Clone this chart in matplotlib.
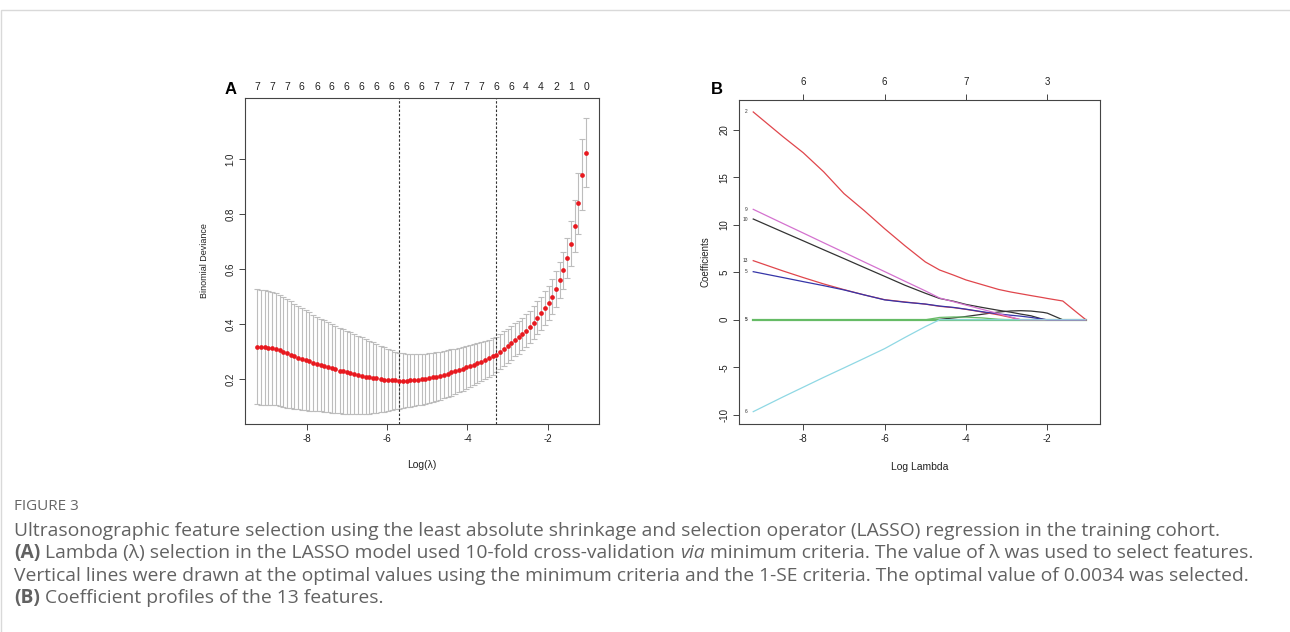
import matplotlib
matplotlib.use("Agg")
import matplotlib.pyplot as plt
from matplotlib.transforms import blended_transform_factory
from matplotlib.patches import Rectangle

# ---- panel A: cross-validated binomial deviance ----
log_lambda = [
    -9.23, -9.14, -9.04, -8.95, -8.86, -8.77, -8.67, -8.58, -8.49, -8.39,
    -8.30, -8.21, -8.12, -8.02, -7.93, -7.84, -7.74, -7.65, -7.56, -7.46,
    -7.37, -7.28, -7.18, -7.09, -7.00, -6.91, -6.81, -6.72, -6.63, -6.53,
    -6.44, -6.35, -6.26, -6.16, -6.07, -5.98, -5.88, -5.79, -5.70, -5.61,
    -5.51, -5.42, -5.33, -5.23, -5.14, -5.05, -4.95, -4.86, -4.77, -4.68,
    -4.58, -4.49, -4.40, -4.30, -4.21, -4.12, -4.03, -3.93, -3.84, -3.75,
    -3.65, -3.56, -3.47, -3.37, -3.28, -3.19, -3.10, -3.00, -2.91, -2.82,
    -2.72, -2.63, -2.54, -2.45, -2.35, -2.26, -2.17, -2.07, -1.98, -1.89,
    -1.79, -1.70, -1.61, -1.52, -1.42, -1.33, -1.24, -1.14, -1.05]

cv_mean = [
    0.318, 0.317, 0.316, 0.315, 0.313, 0.310, 0.305, 0.299, 0.294, 0.289,
    0.284, 0.279, 0.274, 0.269, 0.265, 0.260, 0.256, 0.252, 0.248, 0.244,
    0.240, 0.236, 0.232, 0.229, 0.225, 0.222, 0.219, 0.216, 0.213, 0.210,
    0.207, 0.205, 0.203, 0.201, 0.199, 0.198, 0.197, 0.196, 0.195, 0.195,
    0.195, 0.196, 0.197, 0.198, 0.200, 0.202, 0.204, 0.207, 0.210, 0.213,
    0.217, 0.221, 0.225, 0.229, 0.233, 0.238, 0.243, 0.248, 0.253, 0.258,
    0.264, 0.270, 0.276, 0.283, 0.290, 0.300, 0.311, 0.321, 0.332, 0.343,
    0.353, 0.364, 0.377, 0.390, 0.406, 0.424, 0.441, 0.459, 0.479, 0.500,
    0.528, 0.561, 0.597, 0.642, 0.693, 0.757, 0.840, 0.944, 1.024]

cv_se = [
    0.209, 0.209, 0.208, 0.207, 0.206, 0.204, 0.202, 0.200, 0.197, 0.194,
    0.191, 0.188, 0.185, 0.182, 0.179, 0.175, 0.172, 0.169, 0.166, 0.163,
    0.161, 0.158, 0.156, 0.154, 0.152, 0.149, 0.146, 0.143, 0.140, 0.137,
    0.133, 0.129, 0.125, 0.121, 0.117, 0.113, 0.109, 0.105, 0.102, 0.099,
    0.097, 0.095, 0.094, 0.093, 0.092, 0.091, 0.090, 0.089, 0.088, 0.087,
    0.086, 0.085, 0.084, 0.082, 0.080, 0.079, 0.078, 0.076, 0.075, 0.073,
    0.071, 0.070, 0.068, 0.067, 0.065, 0.064, 0.063, 0.062, 0.061, 0.060,
    0.060, 0.059, 0.059, 0.059, 0.059, 0.060, 0.060, 0.061, 0.062, 0.063,
    0.065, 0.065, 0.067, 0.073, 0.081, 0.095, 0.110, 0.130, 0.125]

# number of non-zero coefficients shown on top (every 4th lambda)
nonzero_top = [7, 7, 7, 6, 6, 6, 6, 6, 6, 6, 6, 6, 7, 7, 7, 7, 6, 6, 4, 4, 2, 1, 0]

log_lambda_min = -5.70
log_lambda_1se = -3.28

# ---- panel B: coefficient profiles ----
path_x = [-9.23, -8.5, -8.0, -7.5, -7.0, -6.5, -6.0, -5.5, -5.0, -4.65, -4.3,
          -4.0, -3.6, -3.2, -2.9, -2.65, -2.4, -2.1, -2.0, -1.62, -1.3, -1.05]

coef_2 = [21.9, 19.3, 17.6, 15.6, 13.3, 11.5, 9.6, 7.8, 6.1, 5.25, 4.7,
          4.2, 3.7, 3.2, 2.93, 2.74, 2.55, 2.33, 2.25, 1.98, 0.86, 0.0]
coef_9 = [11.64, 10.15, 9.14, 8.12, 7.11, 6.09, 5.08, 4.06, 3.05, 2.30, 1.90,
          1.55, 1.10, 0.65, 0.30, 0.0, 0.0, 0.0, 0.0, 0.0, 0.0, 0.0]
coef_10 = [10.62, 9.25, 8.32, 7.38, 6.45, 5.51, 4.58, 3.64, 2.80, 2.25, 1.95,
           1.62, 1.30, 1.00, 0.80, 0.60, 0.42, 0.05, 0.0, 0.0, 0.0, 0.0]
coef_13 = [6.23, 5.15, 4.45, 3.78, 3.18, 2.62, 2.12, 1.88, 1.65, 1.42, 1.28,
           1.10, 0.82, 0.52, 0.25, 0.0, 0.0, 0.0, 0.0, 0.0, 0.0, 0.0]
coef_5 = [5.07, 4.45, 4.02, 3.60, 3.15, 2.62, 2.10, 1.85, 1.66, 1.45, 1.30,
          1.12, 0.85, 0.62, 0.48, 0.38, 0.25, 0.06, 0.0, 0.0, 0.0, 0.0]
coef_6 = [-9.68, -8.13, -7.10, -6.07, -5.07, -4.06, -3.04, -1.86, -0.72, 0.0, 0.0,
          0.0, 0.0, 0.0, 0.0, 0.0, 0.0, 0.0, 0.0, 0.0, 0.0, 0.0]
coef_3 = [0.0, 0.0, 0.0, 0.0, 0.0, 0.0, 0.0, 0.0, 0.0, 0.25, 0.30,
          0.28, 0.20, 0.05, 0.0, 0.0, 0.0, 0.0, 0.0, 0.0, 0.0, 0.0]
coef_1 = [0.0, 0.0, 0.0, 0.0, 0.0, 0.0, 0.0, 0.0, 0.0, 0.05, 0.20,
          0.35, 0.58, 0.82, 0.93, 0.96, 0.92, 0.78, 0.70, 0.0, 0.0, 0.0]
coef_zero = [0.0] * 22

# top axis of panel B
df_ticks = [-8, -6, -4, -2]
df_labels = ["6", "6", "7", "3"]

W, H = 1290, 632
plt.rcParams['font.family'] = ['Liberation Sans', 'DejaVu Sans']
plt.rcParams['axes.unicode_minus'] = False
fig = plt.figure(figsize=(W / 100, H / 100), dpi=100)

# card frame
fig.patches.append(Rectangle((1 / W, -0.1), 1.2, 1 - 10 / H + 0.1, transform=fig.transFigure,
                             fill=False, edgecolor='#d9d9d9', lw=1.0))


def fx(px):
    return px / W


def fy(py):
    return 1 - py / H


def style_axes(ax):
    for s in ax.spines.values():
        s.set_color('#444444')
        s.set_linewidth(0.8)
    ax.tick_params(direction='out', length=4, width=0.7, color='#444444',
                   labelsize=7, labelcolor='#222222', pad=3)
    for lab in ax.get_yticklabels():
        lab.set_rotation(90)
        lab.set_va('center')


# ---------------- panel A ----------------
axA = fig.add_axes([fx(245), fy(424), fx(599) - fx(245), fy(98) - fy(424)])
axA.errorbar(log_lambda, cv_mean, yerr=cv_se, fmt='none', ecolor='#bdbdbd',
             elinewidth=0.8, capsize=2.4, capthick=0.8, zorder=1)
axA.plot(log_lambda, cv_mean, 'o', color='#e8191f', ms=3.4, mec='none', zorder=3)
for v in (log_lambda_min, log_lambda_1se):
    axA.axvline(v, color='#333333', lw=0.8, ls=(0, (2.2, 1.6)), zorder=2)
axA.set_xlim(-9.53, -0.727)
axA.set_ylim(0.0375, 1.223)
axA.set_xticks([-8, -6, -4, -2])
axA.set_yticks([0.2, 0.4, 0.6, 0.8, 1.0])
axA.set_yticklabels(["0.2", "0.4", "0.6", "0.8", "1.0"])
style_axes(axA)
axA.set_xlabel("Log(λ)", fontsize=7.5, labelpad=12, color='#222222')
axA.set_ylabel("Binomial Deviance", fontsize=6.5, labelpad=12, color='#222222')
trA = blended_transform_factory(axA.transData, axA.transAxes)
for xv, n in zip(log_lambda[::4], nonzero_top):
    axA.text(xv, 1.034, str(n), transform=trA, ha='center', va='center',
             fontsize=7.5, color='#222222')
fig.text(fx(231), fy(90), "A", fontsize=12, fontweight='bold', ha='center', va='center')

# ---------------- panel B ----------------
axB = fig.add_axes([fx(739), fy(424), fx(1100) - fx(739), fy(100) - fy(424)])
lines_b = [
    ("", coef_1, '#333333'),
    ("", coef_zero, '#66bb66'),
    ("", coef_3, '#66bb66'),
    ("10", coef_10, '#333333'),
    ("13", coef_13, '#e0464c'),
    ("5", coef_5, '#3535a8'),
    ("9", coef_9, '#d472cf'),
    ("2", coef_2, '#e0464c'),
    ("6", coef_6, '#8fd8e4'),
]
for lab, ys, col in lines_b:
    lw = 1.6 if ys is coef_zero else 0.9
    axB.plot(path_x, ys, color=col, lw=lw)
    if lab:
        axB.annotate(lab, (path_x[0], ys[0]), xytext=(-4, 0), textcoords='offset points',
                     ha='right', va='center', fontsize=3.5, color='#333333')
axB.annotate("5", (path_x[0], 0.0), xytext=(-4, 0), textcoords='offset points',
             ha='right', va='center', fontsize=3.5, color='#333333', fontweight='bold')
axB.set_xlim(-9.58, -0.705)
axB.set_ylim(-10.98, 23.16)
axB.set_xticks([-8, -6, -4, -2])
axB.set_yticks([-10, -5, 0, 5, 10, 15, 20])
style_axes(axB)
axB.set_xlabel("Log Lambda", fontsize=7.5, labelpad=13, color='#222222')
axB.set_ylabel("Coefficients", fontsize=7, labelpad=6, color='#222222')
top = axB.secondary_xaxis('top')
top.set_xticks(df_ticks)
top.set_xticklabels(df_labels)
top.tick_params(direction='out', length=4, width=0.7, color='#444444',
                labelsize=7, labelcolor='#222222', pad=5)
top.spines['top'].set_visible(False)
fig.text(fx(717), fy(90), "B", fontsize=12, fontweight='bold', ha='center', va='center')

# ---------------- caption ----------------
cap_font = 'Open Sans'
cap_size = 13.9
cap_col = '#626262'
renderer = fig.canvas.get_renderer()


def rich_line(x_px, y_px, parts):
    x = fx(x_px)
    for s, weight, style in parts:
        t = fig.text(x, fy(y_px), s, fontsize=cap_size, family=cap_font, color=cap_col,
                     fontweight=weight, fontstyle=style, va='center', ha='left')
        bb = t.get_window_extent(renderer=renderer)
        x += bb.width / fig.bbox.width


fig.text(fx(14), fy(507), "FIGURE 3", fontsize=11, family=cap_font, color='#666666',
         va='center', ha='left')
rich_line(14, 531, [("Ultrasonographic feature selection using the least absolute shrinkage and "
                     "selection operator (LASSO) regression in the training cohort.", 'normal', 'normal')])
rich_line(14, 553, [("(A)", 'bold', 'normal'),
                    (" Lambda (λ) selection in the LASSO model used 10-fold cross-validation ", 'normal', 'normal'),
                    ("via", 'normal', 'italic'),
                    (" minimum criteria. The value of λ was used to select features.", 'normal', 'normal')])
rich_line(14, 576, [("Vertical lines were drawn at the optimal values using the minimum criteria and "
                     "the 1-SE criteria. The optimal value of 0.0034 was selected.", 'normal', 'normal')])
rich_line(14, 598, [("(B)", 'bold', 'normal'),
                    (" Coefficient profiles of the 13 features.", 'normal', 'normal')])

fig.savefig("out.png", dpi=100)
